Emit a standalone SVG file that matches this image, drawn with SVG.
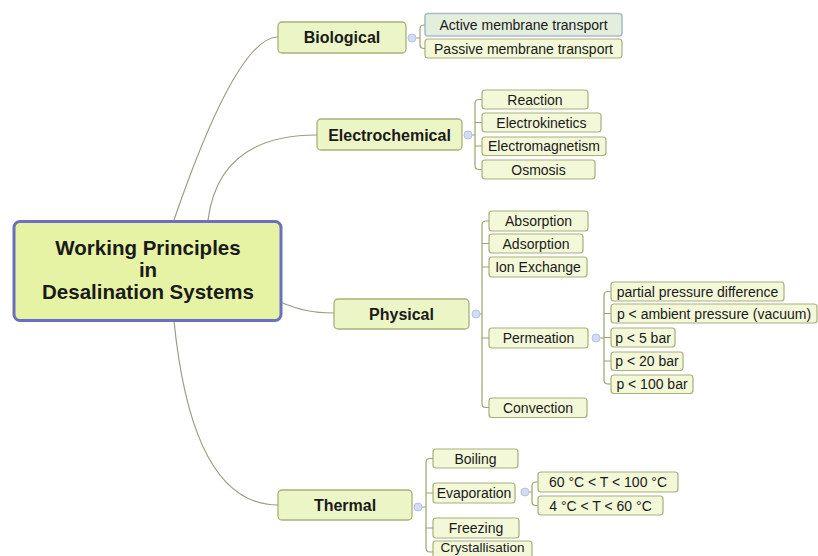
<svg xmlns="http://www.w3.org/2000/svg" width="818" height="556" viewBox="0 0 818 556">
  <style>
    text { font-family: "Liberation Sans", Arial, sans-serif; fill: #1a1a1a; text-anchor: middle; }
    .root rect { fill: #e6f3a4; stroke: #6a70bd; stroke-width: 3; }
    .root text { font-size: 20.5px; font-weight: bold; }
    .main rect { fill: #ecf5c6; stroke: #a8b07a; stroke-width: 1.3; }
    .main text { font-size: 16px; font-weight: bold; }
    .leaf rect { fill: #f3f8d8; stroke: #a9b07c; stroke-width: 1.2; }
    .leaf text { font-size: 14px; }
    .sel rect { fill: #e3eedd; stroke: #a9bccc; stroke-width: 1.6; }
    .curve { fill: none; stroke: #9c9c84; stroke-width: 1.2; }
    .bracket { fill: none; stroke: #9aa46c; stroke-width: 1.2; }
    .knob { fill: #d3dcf2; stroke: #b6c3e6; stroke-width: 1; }
  </style>

  <!-- connectors -->
  <g id="connectors">
    <path class="curve" d="M174,220 Q237,37 278,37"/>
    <path class="curve" d="M208,220 Q219,135 317,135"/>
    <path class="curve" d="M280,302 C300,310 312,313 334,313"/>
    <path class="curve" d="M174,321 C185,430 215,505 278,505"/>

    <!-- Biological -->
    <path class="bracket" d="M416,38 H420 M420,38 V29 Q420,25 424,25 H425 M420,38 V44.5 Q420,48.5 424,48.5 H425"/>
    <!-- Electrochemical -->
    <path class="bracket" d="M472,135 H475 M475,135 V103.5 Q475,99.5 479,99.5 H482 M475,122.5 H482 M475,146 H482 M475,135 V165.5 Q475,169.5 479,169.5 H482"/>
    <!-- Physical -->
    <path class="bracket" d="M480,314 H482 M482,314 V225 Q482,221 486,221 H489 M482,243.5 H489 M482,267 H489 M482,338 H489 M482,314 V403.5 Q482,407.5 486,407.5 H489"/>
    <!-- Permeation -->
    <path class="bracket" d="M600,338 H604 M604,338 V295.5 Q604,291.5 608,291.5 H611 M604,313.5 H611 M604,337.5 H611 M604,361 H611 M604,338 V380 Q604,384 608,384 H611"/>
    <!-- Thermal -->
    <path class="bracket" d="M422,507 H426 M426,507 V462.5 Q426,458.5 430,458.5 H433 M426,493 H433 M426,528 H433 M426,507 V548 Q426,552 430,552 H433"/>
    <!-- Evaporation -->
    <path class="bracket" d="M529,492 H532 M532,492 V486 Q532,482 536,482 H538 M532,492 V501.5 Q532,505.5 536,505.5 H538"/>

    <circle class="knob" cx="412" cy="38" r="4"/>
    <circle class="knob" cx="468" cy="135" r="4"/>
    <circle class="knob" cx="476" cy="314" r="4"/>
    <circle class="knob" cx="596" cy="338" r="4"/>
    <circle class="knob" cx="418" cy="507" r="4"/>
    <circle class="knob" cx="525" cy="492" r="4"/>
  </g>

  <!-- central topic -->
  <g id="root" class="root">
    <rect x="14" y="221.5" width="267" height="99" rx="6"/>
    <text x="148" y="255">Working Principles</text>
    <text x="148" y="277">in</text>
    <text x="148" y="299">Desalination Systems</text>
  </g>

  <!-- main branches -->
  <g id="biological" class="main">
    <rect x="278" y="22" width="128" height="31" rx="4"/>
    <text x="342" y="43">Biological</text>
  </g>
  <g id="electrochemical" class="main">
    <rect x="317" y="119" width="145" height="31" rx="4"/>
    <text x="389.5" y="140.5">Electrochemical</text>
  </g>
  <g id="physical" class="main">
    <rect x="334" y="299" width="135" height="30" rx="4"/>
    <text x="401.5" y="319.5">Physical</text>
  </g>
  <g id="thermal" class="main">
    <rect x="278" y="490" width="134" height="30" rx="4"/>
    <text x="345" y="510.5">Thermal</text>
  </g>

  <!-- Biological children -->
  <g id="active-membrane" class="leaf sel">
    <rect x="425" y="13.5" width="197" height="22.5" rx="3"/>
    <text x="523.5" y="30">Active membrane transport</text>
  </g>
  <g id="passive-membrane" class="leaf">
    <rect x="425" y="39" width="197" height="19" rx="3"/>
    <text x="523.5" y="53.5">Passive membrane transport</text>
  </g>

  <!-- Electrochemical children -->
  <g id="reaction" class="leaf">
    <rect x="482" y="90" width="106" height="19" rx="3"/>
    <text x="535" y="104.5">Reaction</text>
  </g>
  <g id="electrokinetics" class="leaf">
    <rect x="482" y="113" width="119" height="19" rx="3"/>
    <text x="541.5" y="127.5">Electrokinetics</text>
  </g>
  <g id="electromagnetism" class="leaf">
    <rect x="482" y="137" width="124" height="18.5" rx="3"/>
    <text x="544" y="151">Electromagnetism</text>
  </g>
  <g id="osmosis" class="leaf">
    <rect x="482" y="160" width="113" height="19" rx="3"/>
    <text x="538.5" y="174.5">Osmosis</text>
  </g>

  <!-- Physical children -->
  <g id="absorption" class="leaf">
    <rect x="489" y="211" width="99" height="20" rx="3"/>
    <text x="538.5" y="226">Absorption</text>
  </g>
  <g id="adsorption" class="leaf">
    <rect x="489" y="234" width="94" height="19" rx="3"/>
    <text x="536" y="248.5">Adsorption</text>
  </g>
  <g id="ion-exchange" class="leaf">
    <rect x="489" y="257" width="98" height="20" rx="3"/>
    <text x="538" y="272">Ion Exchange</text>
  </g>
  <g id="permeation" class="leaf">
    <rect x="489" y="328" width="99" height="20" rx="3"/>
    <text x="538.5" y="343">Permeation</text>
  </g>
  <g id="convection" class="leaf">
    <rect x="489" y="398" width="98" height="19.5" rx="3"/>
    <text x="538" y="412.5">Convection</text>
  </g>

  <!-- Permeation children -->
  <g id="partial-pressure" class="leaf">
    <rect x="611" y="282" width="173" height="19" rx="3"/>
    <text x="697.5" y="296.5">partial pressure difference</text>
  </g>
  <g id="ambient-pressure" class="leaf">
    <rect x="611" y="304" width="206" height="19" rx="3"/>
    <text x="714" y="318.5">p &lt; ambient pressure (vacuum)</text>
  </g>
  <g id="p5" class="leaf">
    <rect x="611" y="328" width="64" height="19" rx="3"/>
    <text x="643" y="342.5">p &lt; 5 bar</text>
  </g>
  <g id="p20" class="leaf">
    <rect x="611" y="352" width="72" height="18.5" rx="3"/>
    <text x="647" y="366">p &lt; 20 bar</text>
  </g>
  <g id="p100" class="leaf">
    <rect x="611" y="375" width="82" height="18.5" rx="3"/>
    <text x="652" y="389">p &lt; 100 bar</text>
  </g>

  <!-- Thermal children -->
  <g id="boiling" class="leaf">
    <rect x="433" y="449" width="85" height="19" rx="3"/>
    <text x="475.5" y="463.5">Boiling</text>
  </g>
  <g id="evaporation" class="leaf">
    <rect x="433" y="483" width="82" height="20" rx="3"/>
    <text x="474" y="498">Evaporation</text>
  </g>
  <g id="freezing" class="leaf">
    <rect x="433" y="518" width="86" height="20" rx="3"/>
    <text x="476" y="533">Freezing</text>
  </g>
  <g id="crystallisation" class="leaf">
    <rect x="433" y="541" width="99" height="20" rx="3"/>
    <text x="482.5" y="552" style="font-size:13.5px">Crystallisation</text>
  </g>

  <!-- Evaporation children -->
  <g id="t60-100" class="leaf">
    <rect x="538" y="472" width="140" height="20" rx="3"/>
    <text x="608" y="487">60 °C &lt; T &lt; 100 °C</text>
  </g>
  <g id="t4-60" class="leaf">
    <rect x="538" y="496" width="125" height="19" rx="3"/>
    <text x="600.5" y="510.5">4 °C &lt; T &lt; 60 °C</text>
  </g>
</svg>
